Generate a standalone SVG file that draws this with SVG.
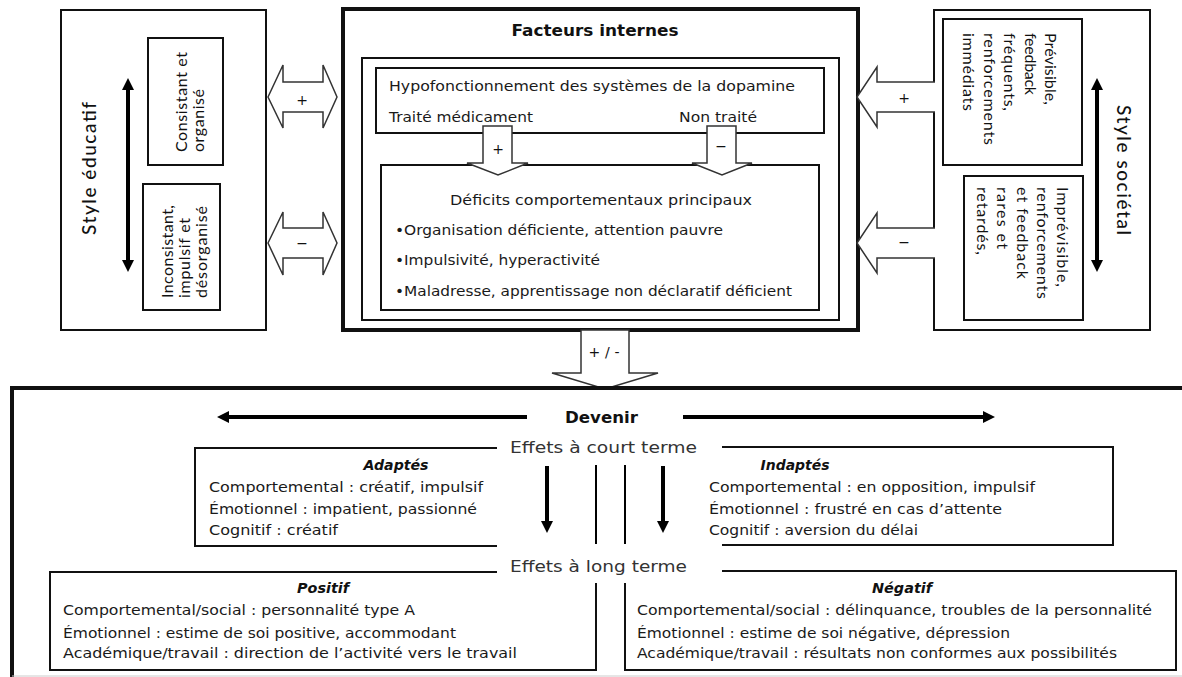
<svg xmlns="http://www.w3.org/2000/svg" width="1182" height="677" viewBox="0 0 1182 677">
<style>
  .box{fill:none;stroke:#111;stroke-width:2}
  .thick{fill:none;stroke:#111;stroke-width:4}
  .t{font-family:"DejaVu Sans",Verdana,sans-serif;font-size:14px;fill:#1a1a1a}
  .b{font-family:"DejaVu Sans",Verdana,sans-serif;font-size:15.5px;font-weight:bold;fill:#111}
  .bi{font-family:"DejaVu Sans",Verdana,sans-serif;font-size:14px;font-weight:bold;font-style:italic;fill:#111}
  .ef{font-family:"DejaVu Sans",Verdana,sans-serif;font-size:16.5px;fill:#333}
  .r{font-family:Lato,"Open Sans",sans-serif;font-size:16px;fill:#111}
  .rt{font-family:Lato,"Open Sans",sans-serif;font-size:19px;font-weight:500;fill:#111}
  .blk{fill:#fff;stroke:#333;stroke-width:1.5;stroke-linejoin:miter}
  .ln{fill:none;stroke:#000;stroke-width:4}
  .thin{fill:none;stroke:#000;stroke-width:2}
  .lbl{font-family:"DejaVu Sans",Verdana,sans-serif;font-size:14px;fill:#111;text-anchor:middle}
</style>
<defs>
  <marker id="ah" viewBox="0 0 12 12" refX="4" refY="6" markerWidth="12" markerHeight="12" markerUnits="userSpaceOnUse" orient="auto-start-reverse">
    <path d="M0,0 L12,6 L0,12 Z" fill="#000"/>
  </marker>
</defs>
<rect width="1182" height="677" fill="#fff"/>

<g id="style-educatif">
  <rect class="box" x="61" y="10" width="205" height="320"/>
  <text class="rt" transform="translate(96,168.5) rotate(-90)" text-anchor="middle" textLength="133" lengthAdjust="spacing">Style éducatif</text>
  <g id="consistant">
    <rect class="box" x="148" y="38" width="75" height="127"/>
    <text class="r" transform="translate(187,152) rotate(-90)"><tspan x="0" y="0" textLength="100" lengthAdjust="spacing">Consistant et</tspan><tspan x="0" y="17" textLength="63" lengthAdjust="spacing">organisé</tspan></text>
  </g>
  <g id="inconsistant">
    <rect class="box" x="143" y="184" width="77" height="126"/>
    <text class="r" transform="translate(173,298) rotate(-90)"><tspan x="0" y="0" textLength="93" lengthAdjust="spacing">Inconsistant,</tspan><tspan x="0" y="17" textLength="80" lengthAdjust="spacing">impulsif et</tspan><tspan x="0" y="34" textLength="92" lengthAdjust="spacing">désorganisé</tspan></text>
  </g>
</g>

<g id="facteurs-internes">
  <rect class="thick" x="343" y="9" width="515" height="321"/>
  <text class="b" x="595" y="36" text-anchor="middle" textLength="167" lengthAdjust="spacingAndGlyphs">Facteurs internes</text>
  <rect class="box" x="362" y="58" width="477" height="262"/>
  <g id="hypofonctionnement">
    <rect class="box" x="376" y="68" width="448" height="65"/>
    <text class="t" x="389" y="91" textLength="406" lengthAdjust="spacingAndGlyphs">Hypofonctionnement des systèmes de la dopamine</text>
    <text class="t" x="389" y="122" textLength="144" lengthAdjust="spacingAndGlyphs">Traité médicament</text>
    <text class="t" x="679" y="122" textLength="78" lengthAdjust="spacingAndGlyphs">Non traité</text>
  </g>
  <g id="deficits">
    <rect class="box" x="381" y="165" width="438" height="145"/>
    <text class="t" x="450" y="205" textLength="302" lengthAdjust="spacingAndGlyphs">Déficits comportementaux principaux</text>
    <text class="t" x="395" y="235" textLength="328" lengthAdjust="spacingAndGlyphs">•Organisation déficiente, attention pauvre</text>
    <text class="t" x="395" y="265" textLength="205" lengthAdjust="spacingAndGlyphs">•Impulsivité, hyperactivité</text>
    <text class="t" x="395" y="296" textLength="397" lengthAdjust="spacingAndGlyphs">•Maladresse, apprentissage non déclaratif déficient</text>
  </g>
</g>

<g id="style-societal">
  <rect class="box" x="934" y="10" width="216" height="320"/>
  <text class="rt" transform="translate(1117,170) rotate(90)" text-anchor="middle" textLength="130" lengthAdjust="spacing">Style sociétal</text>
  <g id="previsible">
    <rect class="box" x="943" y="19" width="139" height="146"/>
    <text class="r" transform="translate(1045,33) rotate(90)"><tspan x="0" y="0" textLength="72" lengthAdjust="spacing">Prévisible,</tspan><tspan x="0" y="20.5" textLength="62" lengthAdjust="spacing">feedback</tspan><tspan x="0" y="41" textLength="78" lengthAdjust="spacing">fréquents,</tspan><tspan x="0" y="61.5" textLength="112" lengthAdjust="spacing">renforcements</tspan><tspan x="0" y="82" textLength="78" lengthAdjust="spacing">immédiats</tspan></text>
  </g>
  <g id="imprevisible">
    <rect class="box" x="964" y="176" width="119" height="144"/>
    <text class="r" transform="translate(1057,187) rotate(90)"><tspan x="0" y="0" textLength="100" lengthAdjust="spacing">Imprévisible,</tspan><tspan x="0" y="20" textLength="112" lengthAdjust="spacing">renforcements</tspan><tspan x="0" y="40" textLength="92" lengthAdjust="spacing">et feedback</tspan><tspan x="0" y="60" textLength="62" lengthAdjust="spacing">rares et</tspan><tspan x="0" y="80" textLength="68" lengthAdjust="spacing">retardés,</tspan></text>
  </g>
</g>

<g id="connectors">
  <line class="ln" x1="128" y1="86" x2="128" y2="264" marker-start="url(#ah)" marker-end="url(#ah)"/>
  <line class="ln" x1="1097" y1="86" x2="1097" y2="264" marker-start="url(#ah)" marker-end="url(#ah)"/>
  <path class="blk" d="M268,97 L283,65 L283,82 L323,82 L323,65 L337,97 L323,128 L323,112 L283,112 L283,128 Z"/>
  <text class="lbl" x="302" y="105">+</text>
  <path class="blk" d="M268,243 L283,212 L283,228 L323,228 L323,212 L337,243 L323,275 L323,258 L283,258 L283,275 Z"/>
  <text class="lbl" x="302" y="248">−</text>
  <path class="blk" d="M935,112 L877,112 L877,127 L857,97 L877,67 L877,82 L935,82"/>
  <text class="lbl" x="904" y="103">+</text>
  <path class="blk" d="M935,258 L877,258 L877,273 L857,243 L877,213 L877,228 L935,228"/>
  <text class="lbl" x="904" y="247">−</text>
  <path class="blk" d="M483,126 L512,126 L512,163 L528,163 L498,175 L467,163 L483,163 Z"/>
  <text class="lbl" x="498" y="154">+</text>
  <path class="blk" d="M707,126 L736,126 L736,163 L752,163 L722,175 L692,163 L707,163 Z"/>
  <text class="lbl" x="721" y="151">−</text>
  <path class="blk" d="M581,330 L629,330 L629,373 L658,373 L605,389 L552,373 L581,373 Z"/>
  <text class="lbl" x="604" y="357" textLength="31" lengthAdjust="spacing">+ / -</text>
  <line class="ln" x1="527" y1="417" x2="225" y2="417" marker-end="url(#ah)"/>
  <line class="ln" x1="683" y1="417" x2="987" y2="417" marker-end="url(#ah)"/>
  <line class="ln" x1="547" y1="466" x2="547" y2="525" marker-end="url(#ah)"/>
  <line class="ln" x1="663" y1="466" x2="663" y2="525" marker-end="url(#ah)"/>
  <line class="thin" x1="596" y1="465" x2="596" y2="544"/>
  <line class="thin" x1="625" y1="465" x2="625" y2="544"/>
</g>

<g id="devenir">
  <path class="thick" d="M1186,388 L12,388 L12,680"/>
  <line x1="12" y1="676" x2="1182" y2="676" stroke="#ccc" stroke-width="1"/>
  <text class="b" x="565" y="423" textLength="73" lengthAdjust="spacingAndGlyphs">Devenir</text>
  <text class="ef" x="510" y="453" textLength="187" lengthAdjust="spacingAndGlyphs">Effets à court terme</text>
  <text class="ef" x="510" y="572" textLength="177" lengthAdjust="spacingAndGlyphs">Effets à long terme</text>
</g>

<g id="adaptes">
  <path class="box" d="M497,448 L195,448 L195,546 L497,546"/>
  <text class="bi" x="396" y="470" text-anchor="middle" textLength="65" lengthAdjust="spacingAndGlyphs">Adaptés</text>
  <text class="t" x="209" y="492" textLength="274" lengthAdjust="spacingAndGlyphs">Comportemental : créatif, impulsif</text>
  <text class="t" x="209" y="514" textLength="268" lengthAdjust="spacingAndGlyphs">Émotionnel : impatient, passionné</text>
  <text class="t" x="209" y="535" textLength="129" lengthAdjust="spacingAndGlyphs">Cognitif : créatif</text>
</g>

<g id="indaptes">
  <path class="box" d="M722,447 L1113,447 L1113,545 L722,545"/>
  <text class="bi" x="795" y="470" text-anchor="middle" textLength="69" lengthAdjust="spacingAndGlyphs">Indaptés</text>
  <text class="t" x="709" y="492" textLength="326" lengthAdjust="spacingAndGlyphs">Comportemental : en opposition, impulsif</text>
  <text class="t" x="709" y="514" textLength="293" lengthAdjust="spacingAndGlyphs">Émotionnel : frustré en cas d’attente</text>
  <text class="t" x="709" y="535" textLength="209" lengthAdjust="spacingAndGlyphs">Cognitif : aversion du délai</text>
</g>

<g id="positif">
  <path class="box" d="M497,572 L50,572 L50,670 L596,670 L596,583"/>
  <text class="bi" x="323" y="593" text-anchor="middle" textLength="52" lengthAdjust="spacingAndGlyphs">Positif</text>
  <text class="t" x="63" y="615" textLength="352" lengthAdjust="spacingAndGlyphs">Comportemental/social : personnalité type A</text>
  <text class="t" x="63" y="638" textLength="393" lengthAdjust="spacingAndGlyphs">Émotionnel : estime de soi positive, accommodant</text>
  <text class="t" x="63" y="658" textLength="454" lengthAdjust="spacingAndGlyphs">Académique/travail : direction de l’activité vers le travail</text>
</g>

<g id="negatif">
  <path class="box" d="M722,571 L1176,571 L1176,670 L625,670 L625,583"/>
  <text class="bi" x="902" y="593" text-anchor="middle" textLength="60" lengthAdjust="spacingAndGlyphs">Négatif</text>
  <text class="t" x="637" y="615" textLength="515" lengthAdjust="spacingAndGlyphs">Comportemental/social : délinquance, troubles de la personnalité</text>
  <text class="t" x="637" y="638" textLength="373" lengthAdjust="spacingAndGlyphs">Émotionnel : estime de soi négative, dépression</text>
  <text class="t" x="637" y="658" textLength="480" lengthAdjust="spacingAndGlyphs">Académique/travail : résultats non conformes aux possibilités</text>
</g>
</svg>
